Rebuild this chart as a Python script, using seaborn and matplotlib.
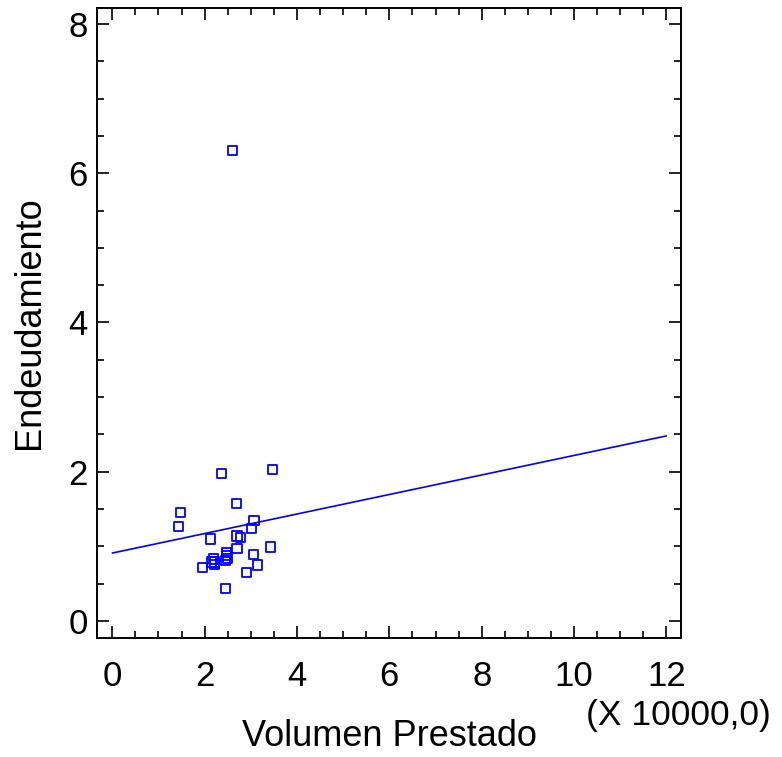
import matplotlib
matplotlib.use("Agg")
import matplotlib.pyplot as plt
import seaborn as sns
import pandas as pd
from matplotlib.ticker import MultipleLocator

# ---- data ----
volumen = [2.37, 3.47, 2.69, 1.47, 1.44, 3.07, 3.02, 2.12, 2.70, 2.77,
           2.70, 3.42, 2.48, 2.47, 2.49, 2.46, 2.19, 2.21, 2.14, 2.21,
           1.96, 3.06, 3.15, 2.90, 2.45, 2.60]
endeudamiento = [1.98, 2.03, 1.57, 1.45, 1.27, 1.35, 1.24, 1.10, 1.14, 1.12,
                 0.97, 0.99, 0.92, 0.88, 0.84, 0.81, 0.83, 0.79, 0.79, 0.76,
                 0.72, 0.89, 0.75, 0.65, 0.44, 6.31]
fit_x = [0.0, 12.0]
fit_y = [0.91, 2.48]
x_ticks = [0, 2, 4, 6, 8, 10, 12]
y_ticks = [0, 2, 4, 6, 8]

df = pd.DataFrame({"Volumen Prestado": volumen, "Endeudamiento": endeudamiento})
fit_df = pd.DataFrame({"x": fit_x, "y": fit_y})

sns.set_theme(style="white")
plt.rcParams["font.family"] = ["Liberation Sans", "DejaVu Sans"]
plt.rcParams["text.color"] = "black"
plt.rcParams["axes.labelcolor"] = "black"
plt.rcParams["xtick.color"] = "black"
plt.rcParams["ytick.color"] = "black"

fig = plt.figure(figsize=(7.82, 7.57), dpi=100)
ax = fig.add_axes([0.1244, 0.1576, 0.7461, 0.8312])

sns.lineplot(data=fit_df, x="x", y="y", ax=ax, color="#0000FF", linewidth=1.2)
sns.scatterplot(data=df, x="Volumen Prestado", y="Endeudamiento", ax=ax,
                marker="s", s=44, color="#0000FF", linewidth=1.3)
for coll in ax.collections:
    coll.set_facecolor("none")
    coll.set_edgecolor("#0000FF")

ax.set_xlim(-0.325, 12.31)
ax.set_ylim(-0.224, 8.208)
ax.set_xticks(x_ticks)
ax.set_yticks(y_ticks)
ax.xaxis.set_minor_locator(MultipleLocator(0.5))
ax.yaxis.set_minor_locator(MultipleLocator(0.5))
ax.tick_params(which="both", direction="in", top=True, right=True,
               bottom=True, left=True, color="black", width=1.2,
               labelcolor="black")
ax.tick_params(which="major", length=8.6, labelsize=25)
ax.tick_params(which="minor", length=5)
ax.tick_params(axis="x", which="major", pad=16)
ax.tick_params(axis="y", which="major", pad=7)
for sp in ax.spines.values():
    sp.set_color("black")
    sp.set_linewidth(1.4)

ax.set_xlabel("Volumen Prestado", fontsize=26, color="black")
ax.set_ylabel("Endeudamiento", fontsize=26, color="black")
ax.xaxis.label.set_verticalalignment("baseline")
ax.xaxis.set_label_coords(0.5, -0.1721)
ax.yaxis.set_label_coords(-0.086, 0.5)
fig.text(678 / 782, 1 - 716 / 757, "(X 10000,0)", fontsize=25.5,
         ha="center", va="center", color="black")

fig.savefig("out.png", dpi=100)
